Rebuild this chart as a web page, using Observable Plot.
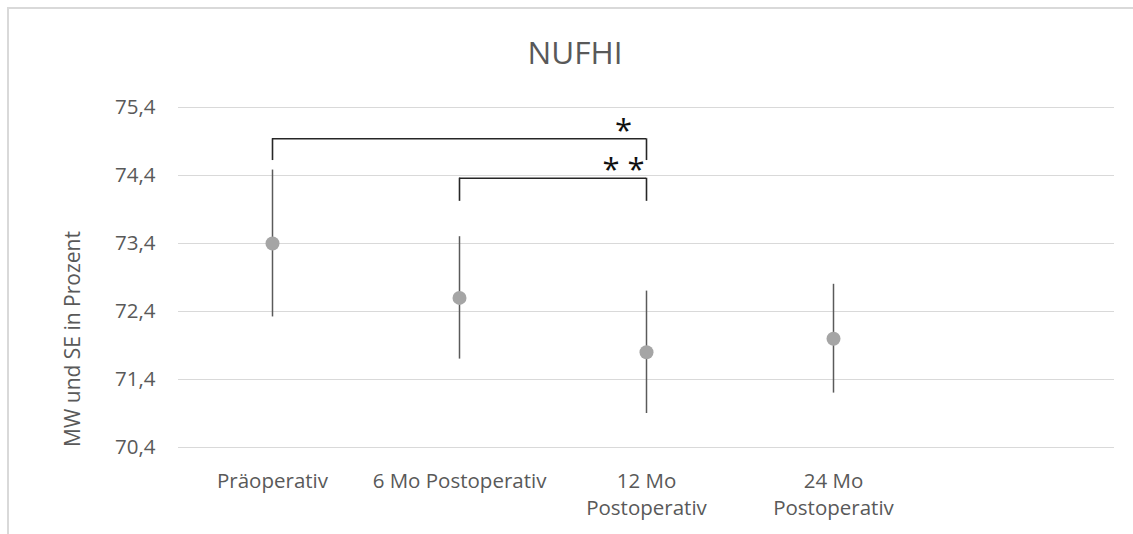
<!DOCTYPE html>
<html>
<head>
<meta charset="utf-8">
<script src="https://cdn.jsdelivr.net/npm/d3@7"></script>
<script src="https://cdn.jsdelivr.net/npm/@observablehq/plot@0.6"></script>
<style>
  body { margin: 0; background: #fff; }
  #chart { position: relative; width: 1133px; height: 534px; overflow: hidden; font-family: "Open Sans", sans-serif; }
  #plot { position: absolute; left: 0; top: 0; }
  #frame { position: absolute; left: 7px; top: 7px; right: -10px; bottom: -10px;
           border-top: 2px solid #d9d9d9; border-left: 2px solid #d9d9d9; pointer-events: none; }
  #title { position: absolute; left: 575px; top: 36px; transform: translateX(-50%);
           font-size: 31.5px; line-height: 31.5px; color: #595959; white-space: nowrap; }
  #ylabel { position: absolute; left: 72px; top: 339px; transform: translate(-50%, -50%) rotate(-90deg);
            font-size: 21px; line-height: 21px; color: #595959; white-space: nowrap; }
</style>
</head>
<body>
<div id="chart">
  <div id="plot"></div>
  <div id="frame"></div>
  <div id="title">NUFHI</div>
  <div id="ylabel">MW und SE in Prozent</div>
</div>
<script>
// Measurement times
const categories = ["Präoperativ", "6 Mo Postoperativ", "12 Mo\nPostoperativ", "24 Mo\nPostoperativ"];
// Mean values (MW) and standard errors (SE)
const means = [73.4, 72.6, 71.8, 72.0];
const errors = [1.08, 0.9, 0.9, 0.8];
// Y axis ticks
const yTicks = [70.4, 71.4, 72.4, 73.4, 74.4, 75.4];
// Significance brackets: from / to category, bracket level, leg end, label
const bracketFrom = ["Präoperativ", "6 Mo Postoperativ"];
const bracketTo = ["12 Mo\nPostoperativ", "12 Mo\nPostoperativ"];
const bracketTop = [74.94, 74.36];
const bracketFoot = [74.62, 74.02];
const bracketLabels = ["*", "* *"];

const rows = categories.map((c, i) => ({cat: c, mean: means[i], se: errors[i]}));
const brackets = bracketFrom.map((f, i) => ({from: f, to: bracketTo[i], top: bracketTop[i], foot: bracketFoot[i], label: bracketLabels[i]}));
const legs = brackets.flatMap(b => [{x: b.from, top: b.top, foot: b.foot}, {x: b.to, top: b.top, foot: b.foot}]);

const textColor = "#595959";
const fmt = d => d.toFixed(1).replace(".", ",");

const chart = Plot.plot({
  width: 1133,
  height: 534,
  marginLeft: 178,
  marginRight: 19,
  marginTop: 107,
  marginBottom: 87,
  style: {background: "transparent", fontFamily: "Open Sans", fontSize: "20.5px", color: textColor},
  x: {type: "point", domain: [...categories, ""], padding: 0.5},
  y: {domain: [70.4, 75.4]},
  marks: [
    Plot.gridY(yTicks, {stroke: "#d9d9d9", strokeOpacity: 1, strokeWidth: 1.2}),
    Plot.axisY({ticks: yTicks, tickFormat: fmt, tickSize: 0, tickPadding: 23, fontSize: 20.5, fill: textColor, label: null}),
    Plot.axisX({tickSize: 0, tickPadding: 21, fontSize: 20.5, fill: textColor, label: null, lineHeight: 1.32}),
    Plot.ruleX(rows, {x: "cat", y1: d => d.mean - d.se, y2: d => d.mean + d.se, stroke: "#5a5a5a", strokeWidth: 1.5}),
    Plot.dot(rows, {x: "cat", y: "mean", r: 7, fill: "#a5a5a5", stroke: "none"}),
    Plot.ruleY(brackets, {x1: "from", x2: "to", y: "top", stroke: "#262626", strokeWidth: 1.6}),
    Plot.ruleX(legs, {x: "x", y1: "foot", y2: "top", stroke: "#262626", strokeWidth: 1.6}),
    Plot.text(brackets, {x: "to", y: "top", text: "label", dx: -23, dy: 2, fontSize: 31, fill: "#111", lineAnchor: "bottom"})
  ]
});
document.getElementById("plot").appendChild(chart);
</script>
</body>
</html>
